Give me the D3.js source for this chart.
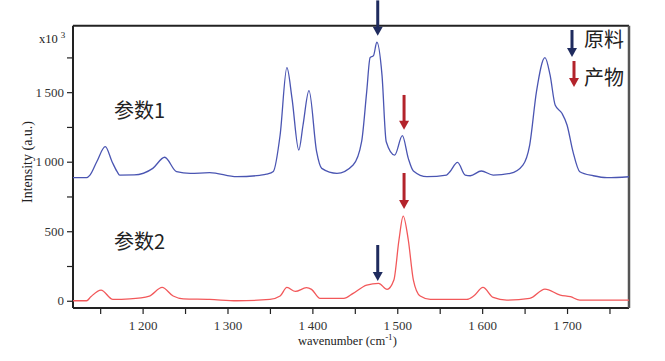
<!DOCTYPE html>
<html>
<head>
<meta charset="utf-8">
<script src="https://cdn.jsdelivr.net/npm/d3@7"></script>
<style>
body{margin:0;background:#fff;}
.axis text{font-family:"Liberation Serif",serif;font-size:13px;fill:#333;}
.axis line{stroke:#222;stroke-width:1.2;}
.label{font-family:"Noto Sans CJK SC",sans-serif;font-size:20px;fill:#222;}
.title{font-family:"Liberation Serif",serif;font-size:12.5px;fill:#222;}
</style>
</head>
<body>
<svg id="chart" width="665" height="361"></svg>
<script>
//Raman-like spectra: 参数1 (offset, blue) and 参数2 (red)

//wavenumbers (cm-1) and intensities
var wave1 = [1118,1134,1138,1146,1156,1164,1170,1173,1190,1212,1226,1240,1256,1279,1311,1338,1346,1354,1362,1370,1376,1384,1389,1396,1405,1411,1429,1448,1458,1464,1468,1472,1476,1482,1487,1497,1506,1513,1519,1535,1558,1562,1571,1580,1586,1599,1613,1633,1648,1656,1664,1674,1680,1686,1694,1700,1707,1715,1731,1747,1773];
var int1  = [885,885,904,1000,1108,1000,928,904,905,952,1032,928,916,921,892,902,910,930,1192,1676,1456,1084,1264,1511,1072,952,916,976,1144,1504,1748,1763,1859,1624,1144,1048,1187,1024,933,892,904,928,995,904,899,933,904,916,976,1120,1504,1748,1624,1408,1348,1264,1072,928,899,885,892];

var wave2 = [1118,1134,1139,1151,1165,1185,1208,1223,1236,1248,1279,1311,1350,1362,1370,1380,1393,1399,1409,1437,1448,1464,1478,1488,1496,1502,1507,1513,1519,1527,1539,1582,1590,1601,1613,1629,1656,1674,1692,1704,1715,1773];
var int2  = [0,0,29,77,10,14,34,96,34,14,10,0,10,34,96,67,94,82,17,17,53,113,125,82,149,437,609,437,149,34,10,10,34,96,24,5,17,84,41,29,5,5];

//marker arrows: wavenumber, start and end intensity, kind
var arrowWave = [1477,1508,1508,1477];
var arrowFrom = [2160,1480,919,401];
var arrowTo   = [1905,1229,660,142];
var arrowKind = ["raw","product","product","raw"];

var xTicks = d3.range(1150,1751,50);
var yTicks = d3.range(0,1751,250);

var colors = {raw:"#1f2b5e",product:"#b3232b"};

var svg = d3.select("#chart");
var mLeft = 73, mRight = 629, mTop = 25.7, mBottom = 308;

var xScale = d3.scaleLinear().domain([1118,1773]).range([mLeft,mRight]);
var yScale = d3.scaleLinear().domain([-52,1978]).range([mBottom,mTop]);

var fmt = d3.formatLocale({decimal:".",thousands:"\u2009",grouping:[3],currency:["",""]}).format(",d");

var xAxis = d3.axisBottom(xScale).tickValues(xTicks).tickSize(6).tickSizeOuter(0)
  .tickFormat(d => d%100===0 ? fmt(d) : "");
var yAxis = d3.axisLeft(yScale).tickValues(yTicks).tickSize(6).tickSizeOuter(0)
  .tickFormat(d => d%500===0 ? fmt(d) : "");

var gx = svg.append("g").classed("axis",true)
  .attr("transform","translate(0,"+mBottom+")")
  .call(xAxis);
gx.select(".domain").remove();
gx.selectAll("text").attr("dy","1.0em");

var gy = svg.append("g").classed("axis",true)
  .attr("transform","translate("+mLeft+",0)")
  .call(yAxis);
gy.select(".domain").remove();
gy.selectAll("text").attr("x",-9);

//frame
svg.append("line").attr("x1",mLeft).attr("x2",mRight).attr("y1",mTop).attr("y2",mTop)
  .attr("stroke","#222").attr("stroke-width",2);
svg.append("line").attr("x1",mLeft).attr("x2",mRight).attr("y1",mBottom).attr("y2",mBottom)
  .attr("stroke","#222").attr("stroke-width",2);
svg.append("line").attr("x1",mLeft).attr("x2",mLeft).attr("y1",mTop).attr("y2",mBottom)
  .attr("stroke","#222").attr("stroke-width",2);
svg.append("line").attr("x1",mRight).attr("x2",mRight).attr("y1",mTop).attr("y2",mBottom)
  .attr("stroke","#555").attr("stroke-width",2.5);

//spectra
var line = d3.line()
  .curve(d3.curveMonotoneX)
  .x(d => xScale(d[0]))
  .y(d => yScale(d[1]));

svg.append("path")
  .datum(d3.zip(wave1,int1))
  .attr("fill","none").attr("stroke","#4a55b2").attr("stroke-width",1.3)
  .attr("d",line);

svg.append("path")
  .datum(d3.zip(wave2,int2))
  .attr("fill","none").attr("stroke","#f2585a").attr("stroke-width",1.3)
  .attr("d",line);

//arrows
function arrow(x,y1,y2,c){
  svg.append("line").attr("x1",x).attr("x2",x).attr("y1",y1).attr("y2",y2-7)
    .attr("stroke",c).attr("stroke-width",3);
  svg.append("path")
    .attr("d","M"+(x-5)+","+(y2-9)+"L"+(x+5)+","+(y2-9)+"L"+x+","+y2+"Z")
    .attr("fill",c);
}
arrowWave.forEach((w,i) => arrow(xScale(w),yScale(arrowFrom[i]),yScale(arrowTo[i]),colors[arrowKind[i]]));

//legend
arrow(572,30,57,colors.raw);
arrow(574,61,87,colors.product);
svg.append("text").classed("label",true).attr("x",584).attr("y",47).text("原料");
svg.append("text").classed("label",true).attr("x",584).attr("y",85).text("产物");

//series labels
svg.append("text").classed("label",true).attr("x",114).attr("y",118).text("参数1");
svg.append("text").classed("label",true).attr("x",114).attr("y",249).text("参数2");

//axis titles
var yt = svg.append("text").classed("title",true).attr("x",39).attr("y",43);
yt.append("tspan").text("x10");
yt.append("tspan").attr("dx",3).attr("dy",-5).style("font-size","9px").text("3");

svg.append("text").classed("title",true)
  .style("font-size","14px")
  .attr("transform","translate(32,162) rotate(-90)")
  .attr("text-anchor","middle")
  .text("Intensity (a.u.)");

var xt = svg.append("text").classed("title",true).attr("x",298).attr("y",345);
xt.append("tspan").text("wavenumber (cm");
xt.append("tspan").attr("dy",-5).style("font-size","9px").text("-1");
xt.append("tspan").attr("dy",5).text(")");
</script>
</body>
</html>
